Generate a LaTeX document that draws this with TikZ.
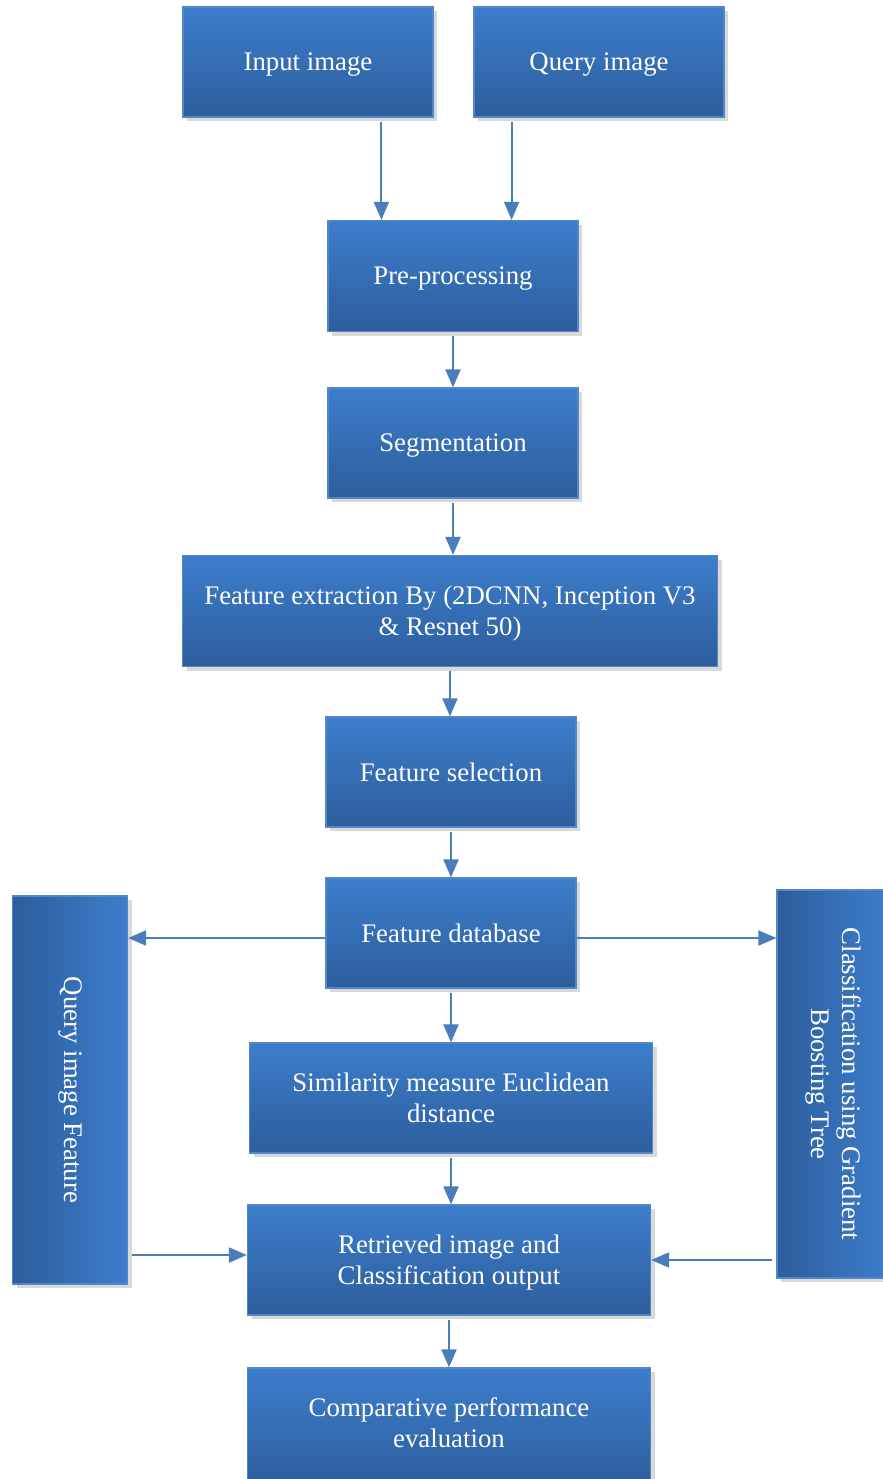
\documentclass[tikz,border=0pt]{standalone}
\usepackage{fontspec}
\setmainfont{Liberation Serif}
\usetikzlibrary{shadows,arrows.meta}

\definecolor{boxtop}{RGB}{60,126,204}
\definecolor{boxbot}{RGB}{45,93,156}
\definecolor{boxline}{RGB}{84,135,200}
\definecolor{flowcol}{RGB}{74,126,187}

\tikzset{
  boxbase/.style={draw=boxline,line width=.6pt,
    text=white,align=center,inner sep=0pt,
    drop shadow={opacity=.3,shadow xshift=2pt,shadow yshift=-2pt},
    font=\fontsize{13.4}{15.5}\selectfont},
  stage/.style={boxbase,text depth=0pt,top color=boxtop,bottom color=boxbot},
  sidestage/.style={boxbase,left color=boxbot,right color=boxtop},
  flow/.style={line width=1pt,flowcol,-{Triangle[length=9pt,width=7.5pt]},shorten <=2pt}
}

\begin{document}
\begin{tikzpicture}[x=0.5pt,y=-0.5pt]
            \useasboundingbox (0,0) rectangle (883,1479);

            \node[stage,minimum width=125pt,minimum height=55pt] (input) at (308,62) {Input image};
            \node[stage,minimum width=125pt,minimum height=55pt] (query) at (599,62) {Query image};
            \node[stage,minimum width=125pt,minimum height=55.5pt] (preproc) at (453,276) {Pre-processing};
            \node[stage,minimum width=125pt,minimum height=55pt] (segment) at (453,443) {Segmentation};
            \node[stage,minimum width=267.5pt,minimum height=55.5pt] (featext) at (450,611) {Feature extraction By (2DCNN, Inception V3\\\& Resnet 50)};
            \node[stage,minimum width=125pt,minimum height=55pt] (featsel) at (451,772) {Feature selection};
            \node[stage,minimum width=125pt,minimum height=55pt] (featdb) at (451,933) {Feature database};
            \node[stage,minimum width=201.5pt,minimum height=55pt] (simil) at (451,1098) {Similarity measure Euclidean\\distance};
            \node[stage,minimum width=201.5pt,minimum height=55pt] (retrieved) at (449,1260) {Retrieved image and\\Classification output};
            \node[stage,minimum width=201.5pt,minimum height=60pt] (compare) at (449,1428) {};
            \node[text=white,align=center,text depth=0pt,font=\fontsize{13.4}{15.5}\selectfont] (comparetxt) at (449,1423) {Comparative performance\\evaluation};

            \node[sidestage,minimum width=57.5pt,minimum height=194pt] (qfeat) at (70,1090) {\rotatebox{-90}{Query image Feature}};
            \node[sidestage,minimum width=56.5pt,minimum height=194pt] (classif) at (833.5,1084) {\rotatebox{-90}{\begin{tabular}{@{}c@{}}Classification using Gradient\\Boosting Tree\end{tabular}}};

            \draw[flow] ([xshift=27pt]preproc.north west |- input.south) -- ([xshift=27pt]preproc.north west);
            \draw[flow] ([xshift=-33.5pt]preproc.north east |- query.south) -- ([xshift=-33.5pt]preproc.north east);

            \foreach \a/\b in {preproc/segment,segment/featext,featext/featsel,featsel/featdb,featdb/simil,simil/retrieved,retrieved/compare}
            \draw[flow] (\a.south) -- (\a.south |- \b.north);

            \draw[flow,shorten <=0pt] ([yshift=-2.5pt]featdb.west) -- ([yshift=-2.5pt]featdb.west -| qfeat.east);
            \draw[flow,shorten <=0pt] ([yshift=-2.5pt]featdb.east) -- ([yshift=-2.5pt]featdb.east -| classif.west);
            \draw[flow] ([yshift=2.5pt]qfeat.east |- retrieved.west) -- ([yshift=2.5pt]retrieved.west);
            \draw[flow] (classif.west |- retrieved.east) -- (retrieved.east);
        \end{tikzpicture}
\end{document}
